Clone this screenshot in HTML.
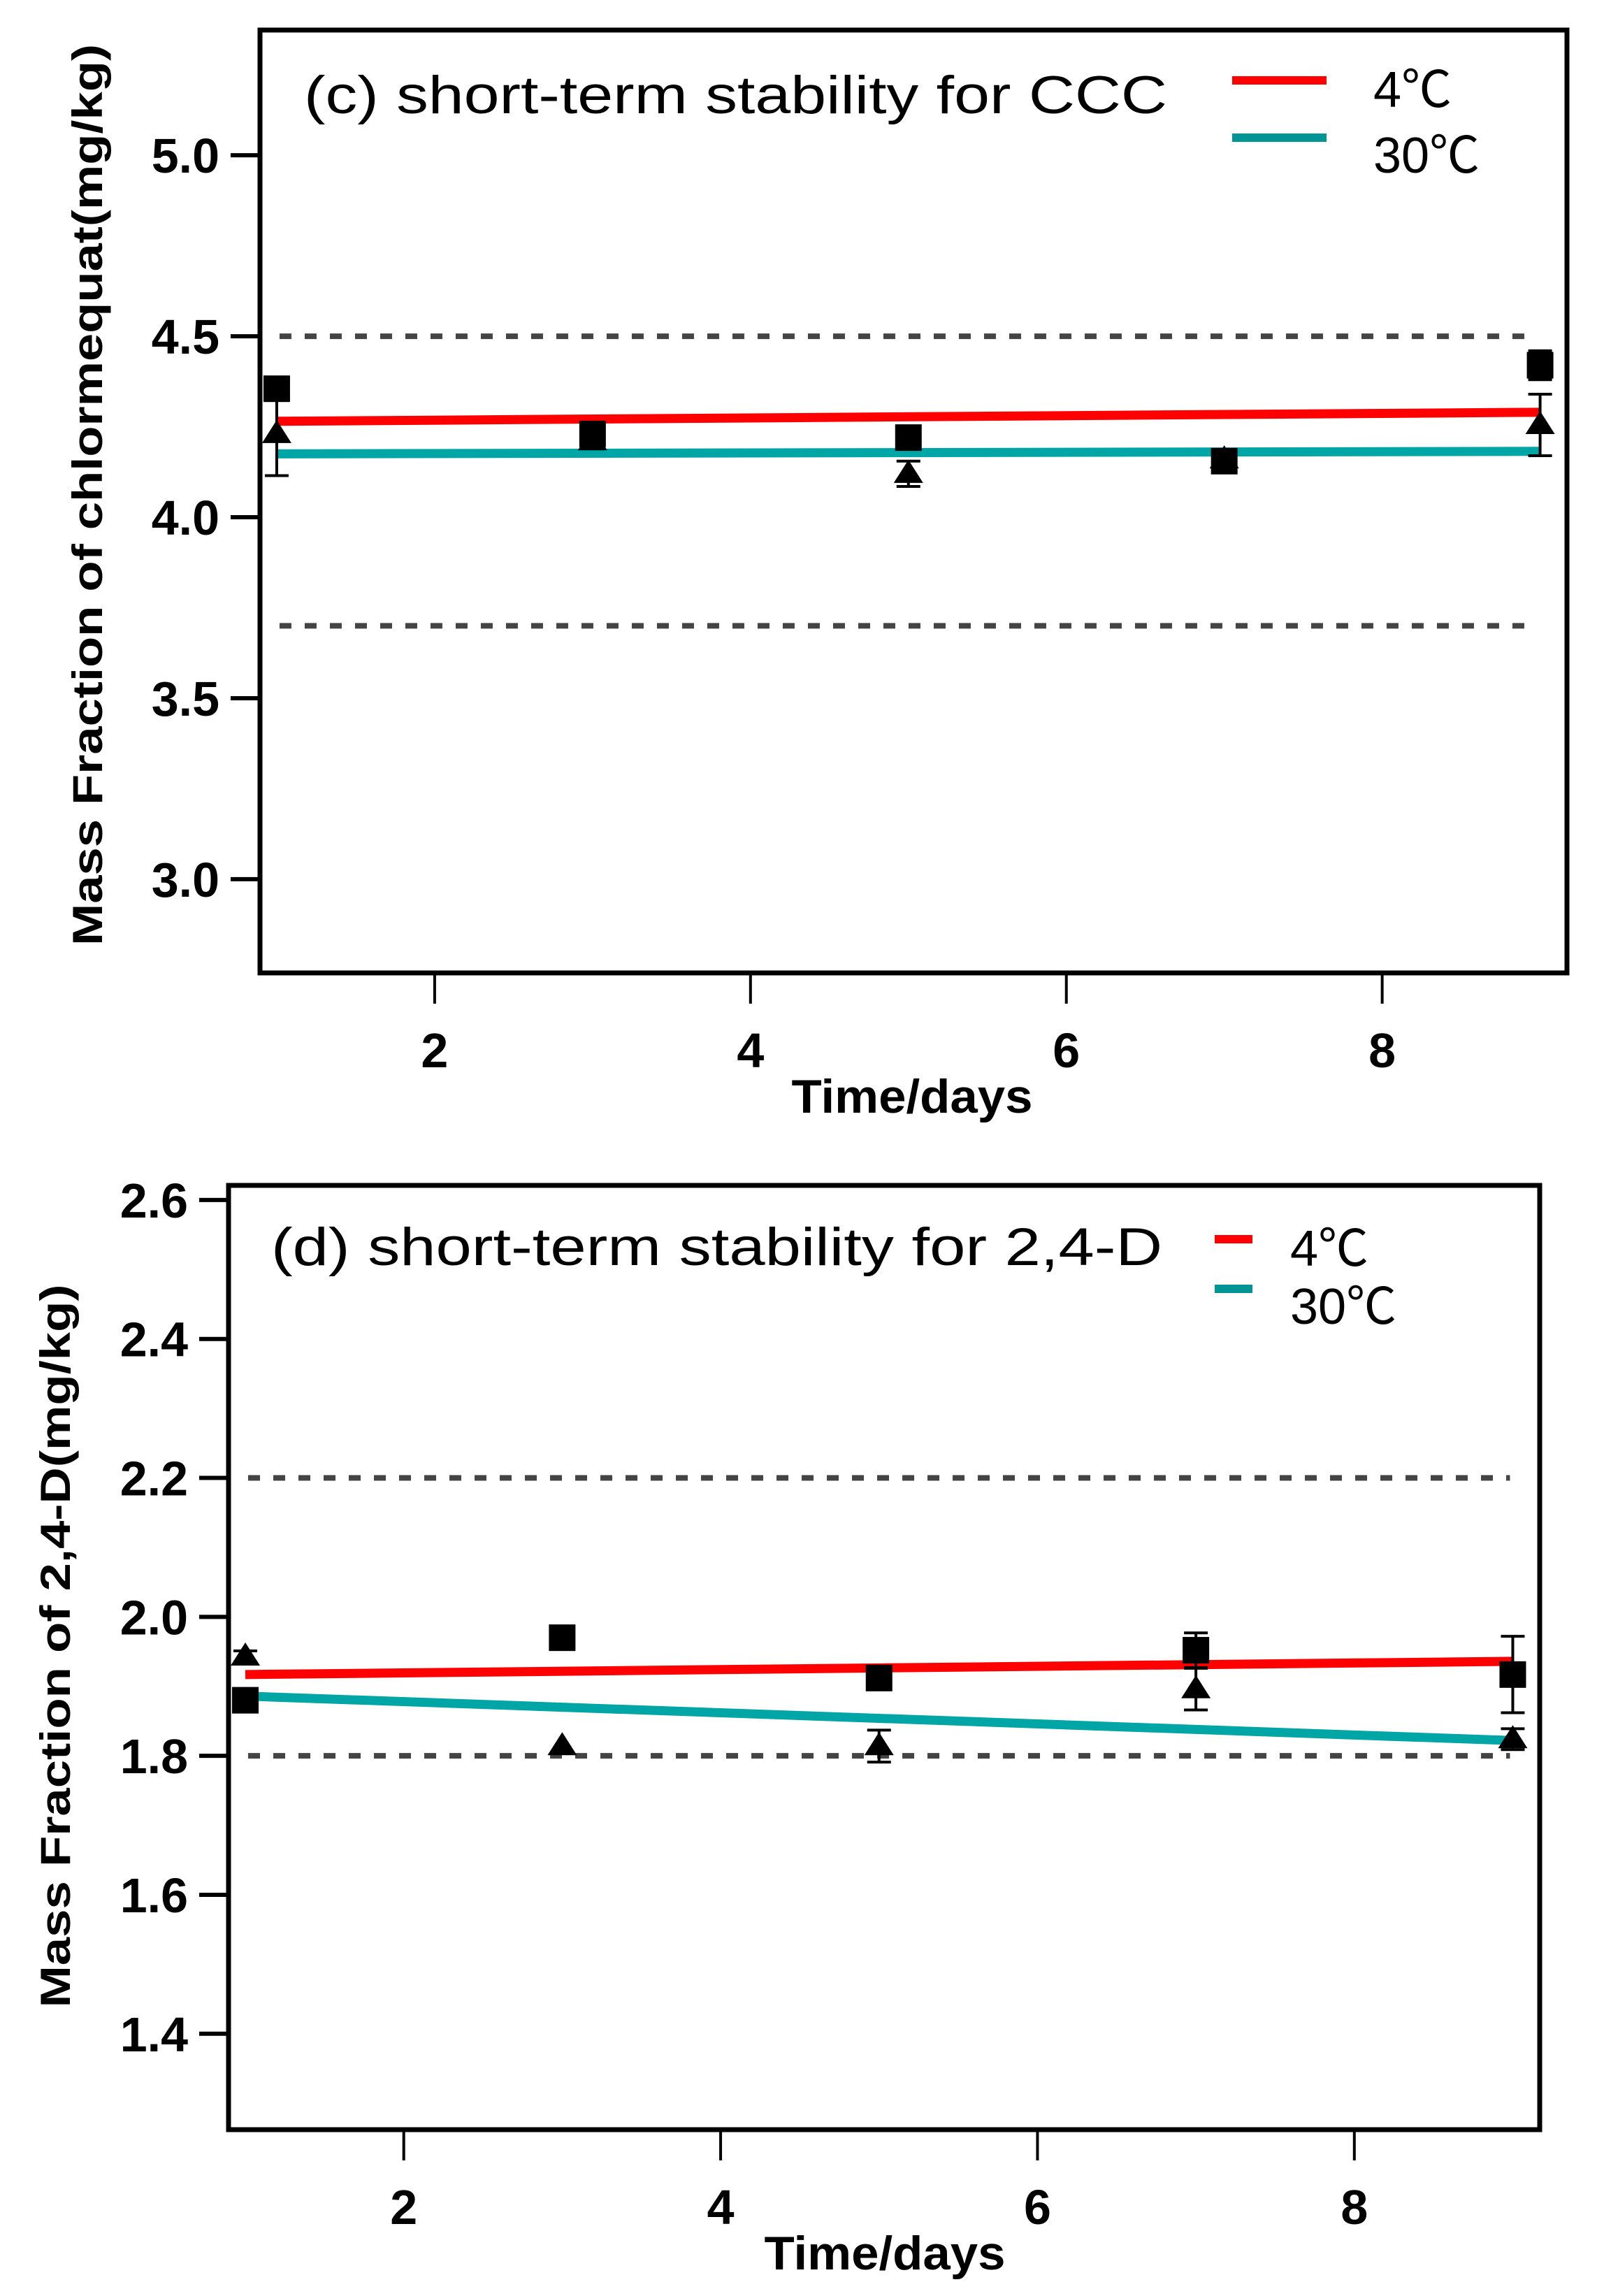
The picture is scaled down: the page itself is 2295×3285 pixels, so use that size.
<!DOCTYPE html>
<html><head><meta charset="utf-8"><style>
html,body{margin:0;padding:0;background:#fff;}
svg{display:block;}
text{font-family:"Liberation Sans","Noto Sans CJK SC",sans-serif;}
</style></head><body>
<svg id="fig" width="2295" height="3285" viewBox="0 0 2295 3285" xmlns="http://www.w3.org/2000/svg">
<rect x="0" y="0" width="2295" height="3285" fill="#fff"/>
<g id="chartC"></g>
<g id="chartD"></g>
</svg>
<script>
// ---- shared data ----
const days = [1, 3, 5, 7, 9];
const xTicks = [2, 4, 6, 8];
// chart c
const cYTicks = [3.0, 3.5, 4.0, 4.5, 5.0];
const cSq = [4.355, 4.23, 4.22, 4.155, 4.42];
const cSqErr = [0.0, 0.02, 0.0, 0.03, 0.04];
const cTri = [4.23, 4.21, 4.12, 4.16, 4.255];
const cTriErr = [0.115, 0.02, 0.035, 0.0, 0.085];
const cFit4 = [4.265, 4.29];
const cFit30 = [4.175, 4.182];
const cLimits = [3.7, 4.5];
// chart d
const dYTicks = [1.4, 1.6, 1.8, 2.0, 2.2, 2.4, 2.6];
const dSq = [1.88, 1.97, 1.912, 1.952, 1.917];
const dSqErr = [0.0, 0.0, 0.015, 0.025, 0.055];
const dTri = [1.943, 1.814, 1.814, 1.896, 1.824];
const dTriErr = [0.008, 0.0, 0.023, 0.03, 0.015];
const dFit4 = [1.917, 1.936];
const dFit30 = [1.886, 1.822];
const dLimits = [1.8, 2.2];

const NS = "http://www.w3.org/2000/svg";
function mk(parent, tag, attrs, txt){
  const e = document.createElementNS(NS, tag);
  for (const k in attrs) e.setAttribute(k, attrs[k]);
  if (txt !== undefined) e.textContent = txt;
  parent.appendChild(e);
  return e;
}

function drawChart(g, cfg){
  const X = v => cfg.left + (v - cfg.xmin) / (cfg.xmax - cfg.xmin) * (cfg.right - cfg.left);
  const Y = v => cfg.bottom - (v - cfg.ymin) / (cfg.ymax - cfg.ymin) * (cfg.bottom - cfg.top);

  cfg.limits.forEach(l => {
    const e = mk(g, "line", {x1: X(1)+4, x2: X(9)-4, y1: Y(l), y2: Y(l), stroke: "#444", "stroke-width": 8, "stroke-dasharray": "17 19"});
    
    
  });
  const f4 = mk(g, "line", {x1: X(1), x2: X(9), y1: Y(cfg.fit4[0]), y2: Y(cfg.fit4[1]), stroke: "#ff0000", "stroke-width": 13});
  
  
  const f30 = mk(g, "line", {x1: X(1), x2: X(9), y1: Y(cfg.fit30[0]), y2: Y(cfg.fit30[1]), stroke: "#00a6a6", "stroke-width": 13});
  
  

  days.forEach((d, i) => {
    [[cfg.sq[i], cfg.sqErr[i]], [cfg.tri[i], cfg.triErr[i]]].forEach(([v, er]) => {
      if (er > 0) {
        const eb = mk(g, "path", {d: `M${X(d)} ${Y(v+er)}V${Y(v-er)}M${X(d)-17} ${Y(v+er)}h34M${X(d)-17} ${Y(v-er)}h34`, stroke: "#000", "stroke-width": 4, fill: "none"});
        
        
      }
    });
    const s = mk(g, "rect", {x: X(d)-19, y: Y(cfg.sq[i])-19, width: 38, height: 38, fill: "#000"});
    
    
    const ty = Y(cfg.tri[i]);
    const t = mk(g, "polygon", {points: `${X(d)} ${ty-20},${X(d)+21} ${ty+13},${X(d)-21} ${ty+13}`, fill: "#000"});
    
    
  });

  const fr = mk(g, "rect", {x: cfg.left, y: cfg.top, width: cfg.right-cfg.left, height: cfg.bottom-cfg.top, fill: "none", stroke: "#000", "stroke-width": 7});
  
  

  xTicks.forEach(t => {
    const tk = mk(g, "line", {x1: X(t), x2: X(t), y1: cfg.bottom, y2: cfg.bottom+44, stroke: "#000", "stroke-width": 4});
    
    
    const tl = mk(g, "text", {x: X(t), y: cfg.bottom+135, "text-anchor": "middle", "font-size": 70, "font-weight": "bold"}, String(t));
    
    
  });
  cfg.yTicks.forEach(t => {
    const tk = mk(g, "line", {x1: cfg.left-42, x2: cfg.left, y1: Y(t), y2: Y(t), stroke: "#000", "stroke-width": 6});
    
    
    const tl = mk(g, "text", {x: cfg.left-58, y: Y(t)+25, "text-anchor": "end", "font-size": 70, "font-weight": "bold"}, t.toFixed(1));
    
    
  });

  const xt = mk(g, "text", {x: cfg.xTitleX, y: cfg.bottom+200, "text-anchor": "middle", "font-size": 68, "font-weight": "bold", textLength: 345, lengthAdjust: "spacingAndGlyphs"}, "Time/days");
  
  
  const yt = mk(g, "text", {x: 0, y: 0, "text-anchor": "middle", "font-size": 60, "font-weight": "bold", textLength: cfg.yTitleLen, lengthAdjust: "spacingAndGlyphs", transform: `translate(${cfg.yTitleX},${cfg.yTitleY}) rotate(-90)`}, cfg.yTitle);
  
  

  const ti = mk(g, "text", {x: cfg.titleX, y: cfg.titleY, "font-size": 76, textLength: cfg.titleLen, lengthAdjust: "spacingAndGlyphs"}, cfg.title);
  
  

  const l1 = mk(g, "line", {x1: cfg.legX1, x2: cfg.legX2, y1: cfg.legY1, y2: cfg.legY1, stroke: "#ff0000", "stroke-width": 12});
  
  
  const l2 = mk(g, "line", {x1: cfg.legX1, x2: cfg.legX2, y1: cfg.legY2, y2: cfg.legY2, stroke: "#009595", "stroke-width": 12});
  
  
  const lt1 = mk(g, "text", {x: cfg.legTX, y: cfg.legY1+38, "font-size": 72}, "4℃");
  
  
  const lt2 = mk(g, "text", {x: cfg.legTX, y: cfg.legY2+50, "font-size": 72}, "30℃");
  
  
}

drawChart(document.getElementById('chartC'), {
  left: 372, right: 2242, top: 43, bottom: 1392,
  xmin: 0.894, xmax: 9.17, ymin: 2.741, ymax: 5.346,
  yTicks: cYTicks, sq: cSq, sqErr: cSqErr, tri: cTri, triErr: cTriErr,
  fit4: cFit4, fit30: cFit30, limits: cLimits,
  xTitleX: 1305, yTitle: "Mass Fraction of chlormequat(mg/kg)", yTitleX: 146, yTitleY: 708, yTitleLen: 1290,
  title: "(c) short-term stability for CCC", titleX: 435, titleY: 162, titleLen: 1235,
  legX1: 1763, legX2: 1898, legY1: 115, legY2: 197, legTX: 1965
});
drawChart(document.getElementById('chartD'), {
  left: 327, right: 2203, top: 1696, bottom: 3047,
  xmin: 0.894, xmax: 9.17, ymin: 1.262, ymax: 2.621,
  yTicks: dYTicks, sq: dSq, sqErr: dSqErr, tri: dTri, triErr: dTriErr,
  fit4: dFit4, fit30: dFit30, limits: dLimits,
  xTitleX: 1266, yTitle: "Mass Fraction of 2,4-D(mg/kg)", yTitleX: 100, yTitleY: 2355, yTitleLen: 1035,
  title: "(d) short-term stability for 2,4-D", titleX: 388, titleY: 1810, titleLen: 1275,
  legX1: 1738, legX2: 1792, legY1: 1773, legY2: 1844, legTX: 1846
});
</script>
</body></html>
